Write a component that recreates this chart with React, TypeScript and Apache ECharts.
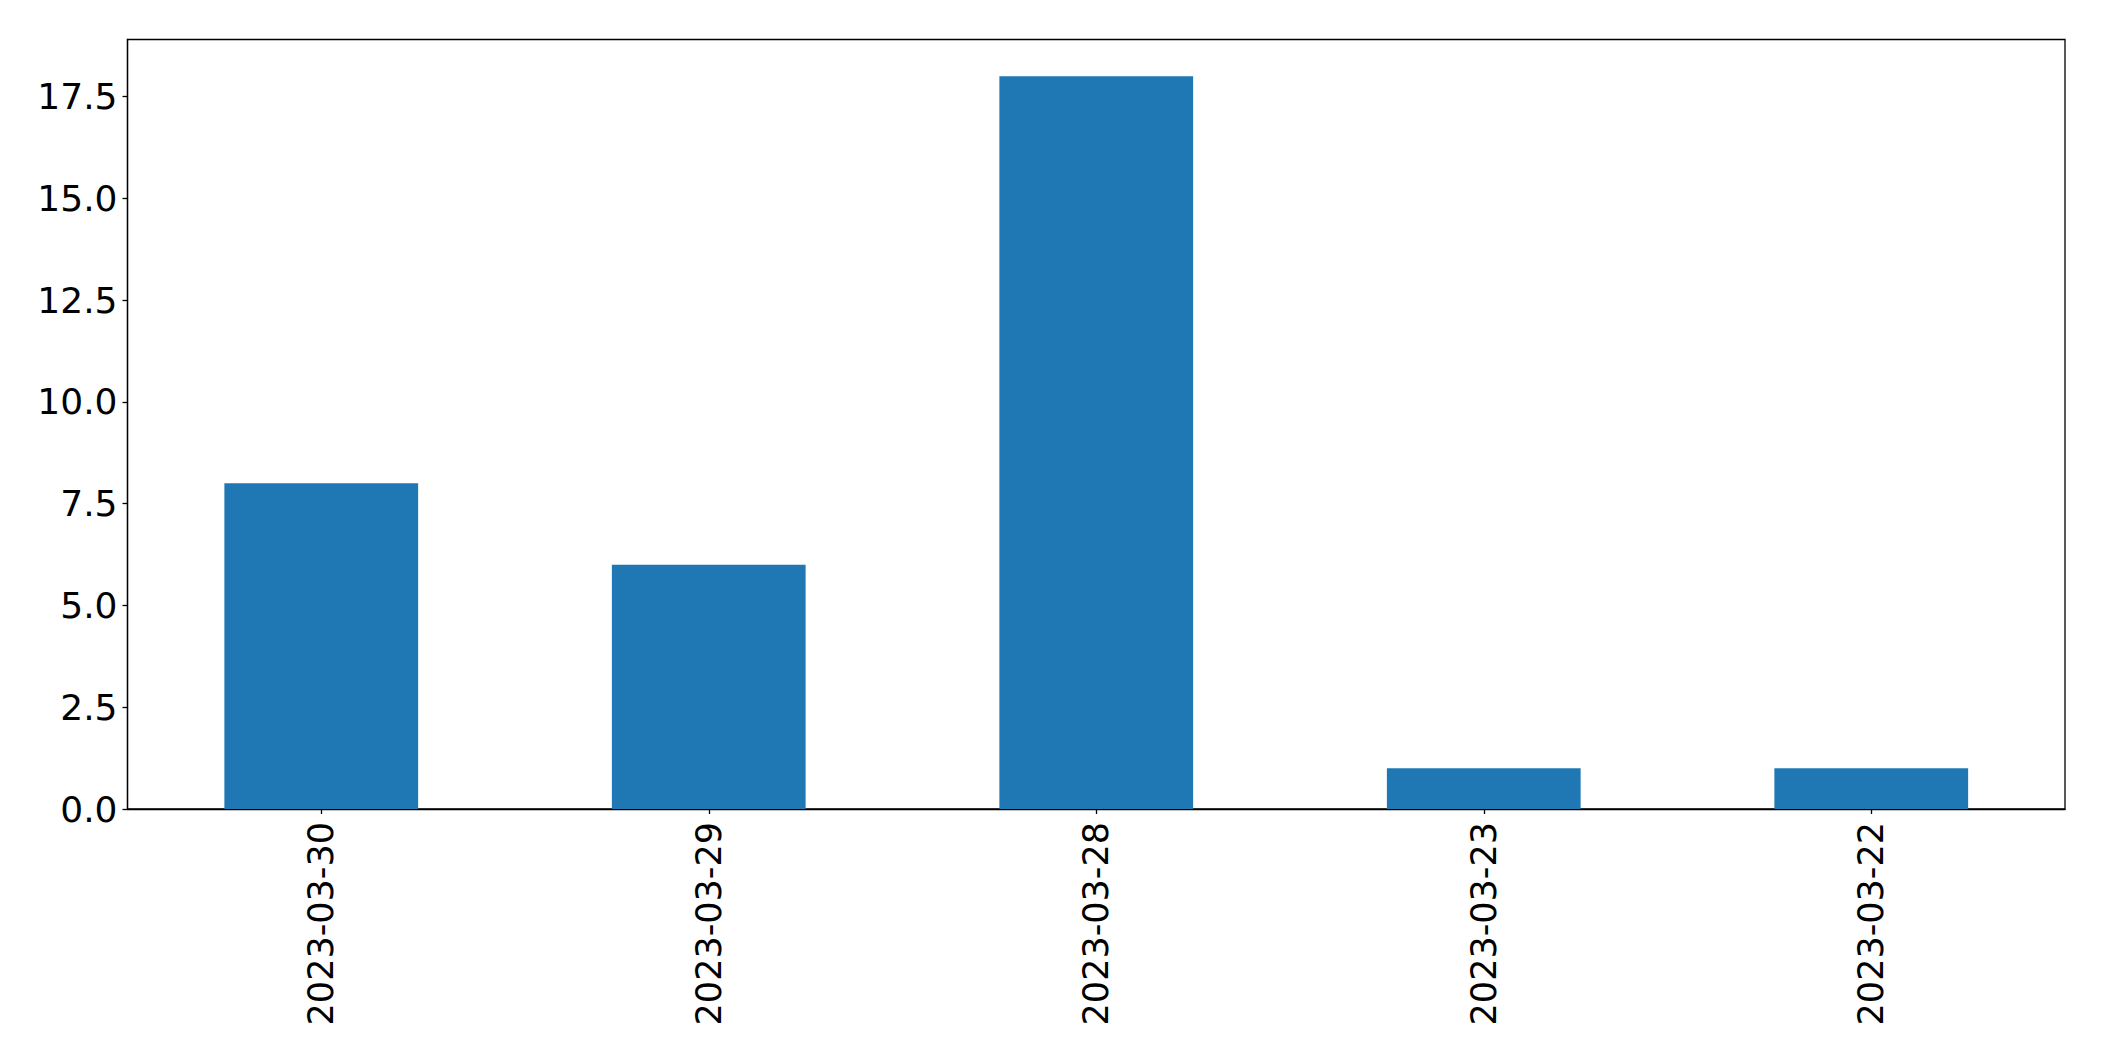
import React, { useEffect, useRef } from "react";
import * as echarts from "echarts";

const categories = ["2023-03-30", "2023-03-29", "2023-03-28", "2023-03-23", "2023-03-22"];
const values = [8, 6, 18, 1, 1];
const yTicks = [0, 2.5, 5, 7.5, 10, 12.5, 15, 17.5];

export default function App() {
  const ref = useRef<HTMLDivElement>(null);
  useEffect(() => {
    if (!ref.current) return;
    const chart = echarts.init(ref.current, undefined, { renderer: "svg" });
    const font = "DejaVu Sans";
    chart.setOption({
      animation: false,
      backgroundColor: "#fff",
      grid: {
        left: 127.5,
        right: 39,
        top: 39.5,
        bottom: 252,
        show: true,
        borderColor: "#000",
        borderWidth: 1.3,
        backgroundColor: "transparent",
      },
      xAxis: {
        type: "category",
        data: categories,
        boundaryGap: true,
        axisLine: { show: true, lineStyle: { color: "#000", width: 1.3 } },
        axisTick: { show: true, alignWithLabel: true, length: 5, lineStyle: { color: "#000", width: 1.3 } },
        axisLabel: {
          rotate: 90,
          margin: 13,
          color: "#000",
          fontFamily: font,
          fontSize: 35,
          interval: 0,
        },
        splitLine: { show: false },
      },
      yAxis: {
        type: "value",
        min: 0,
        max: 18.9,
        interval: 2.5,
        axisLine: { show: true, lineStyle: { color: "#000", width: 1.3 } },
        axisTick: { show: true, length: 5, lineStyle: { color: "#000", width: 1.3 } },
        axisLabel: {
          margin: 10,
          color: "#000",
          fontFamily: font,
          fontSize: 36,
          showMaxLabel: false,
          formatter: (v: number) => (yTicks.includes(v) ? v.toFixed(1) : ""),
        },
        splitLine: { show: false },
      },
      series: [
        {
          type: "bar",
          data: values,
          barWidth: "50%",
          itemStyle: { color: "#1f77b4" },
        },
      ],
    });
    return () => chart.dispose();
  }, []);
  return (
    <div
      ref={ref}
      style={{ position: "fixed", left: 0, top: 0, width: 2104, height: 1061, background: "#fff" }}
    />
  );
}
